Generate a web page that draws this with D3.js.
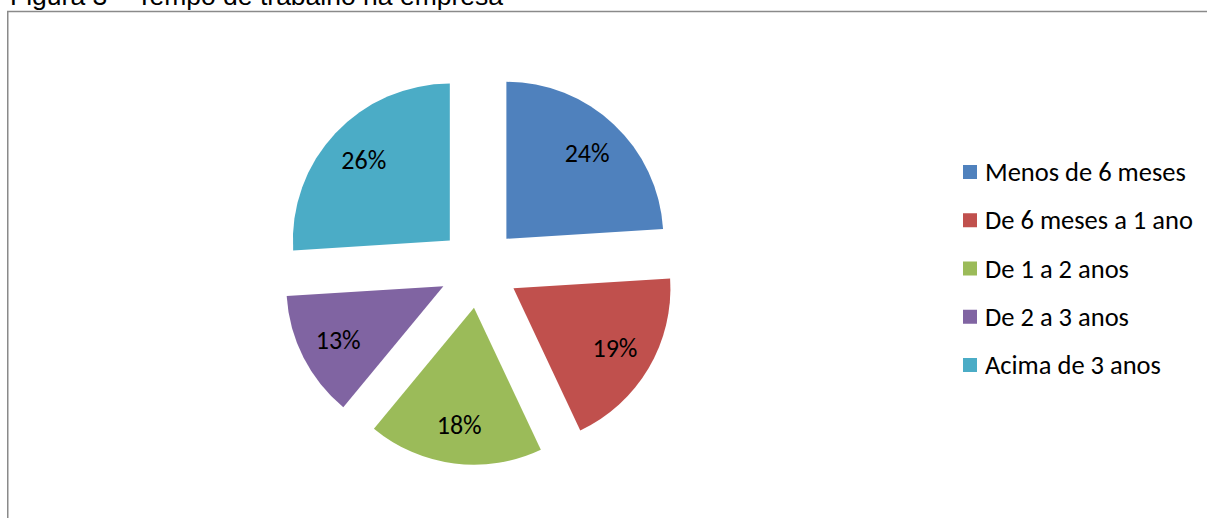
<!DOCTYPE html>
<html>
<head>
<meta charset="utf-8">
<script src="https://cdn.jsdelivr.net/npm/d3@7"></script>
<style>
  html, body { margin: 0; padding: 0; background: #fff; }
  svg { display: block; }
</style>
</head>
<body>
<svg id="chart" width="1207" height="518"></svg>
<script>
// Tempo de trabalho na empresa (percentual dos entrevistados)
const categories = ["Menos de 6 meses", "De 6 meses a 1 ano", "De 1 a 2 anos", "De 2 a 3 anos", "Acima de 3 anos"];
const shares = [24, 19, 18, 13, 26];
const colors = ["#4F81BD", "#C0504D", "#9BBB59", "#8064A2", "#4BACC6"];
const titleText = "Figura 3 \u2013 Tempo de trabalho na empresa";

const W = 1207, H = 518;
const svg = d3.select("#chart");
const labelFont = "Carlito, Calibri, 'Open Sans', sans-serif";

// Figure caption (partially clipped by the page top)
svg.append("text")
  .attr("x", 10).attr("y", 4.5)
  .attr("font-family", "'Liberation Sans', Arial, sans-serif")
  .attr("font-size", 26.5)
  .attr("fill", "#000")
  .text(titleText);

// Chart frame
svg.append("rect")
  .attr("x", 7.75).attr("y", 11.5)
  .attr("width", W + 20).attr("height", H + 20)
  .attr("fill", "none")
  .attr("stroke", "#8a8a8a")
  .attr("stroke-width", 1.5);

// Exploded pie
const cx = 479, cy = 268, radius = 157, explode = 40, labelDist = 118;
const pie = d3.pie().sort(null).value(d => d.v);
const arcs = pie(shares.map((v, i) => ({ v, name: categories[i], color: colors[i] })));
const arc = d3.arc().innerRadius(0).outerRadius(radius);

const g = svg.append("g").attr("transform", `translate(${cx},${cy})`);
const slice = g.selectAll("g.slice").data(arcs).join("g")
  .attr("class", "slice")
  .attr("transform", d => {
    const a = (d.startAngle + d.endAngle) / 2;
    return `translate(${explode * Math.sin(a)},${-explode * Math.cos(a)})`;
  });

slice.append("path")
  .attr("d", arc)
  .attr("fill", d => d.data.color);

slice.append("text")
  .attr("x", d => labelDist * Math.sin((d.startAngle + d.endAngle) / 2))
  .attr("y", d => -labelDist * Math.cos((d.startAngle + d.endAngle) / 2))
  .attr("text-anchor", "middle")
  .attr("dominant-baseline", "central")
  .attr("font-family", labelFont)
  .attr("font-size", 26)
  .attr("fill", "#000")
  .text(d => d3.format(".0f")(d.data.v) + "%");

// Legend
const legendY = d3.scalePoint().domain(categories).range([172, 365]);
const legend = svg.append("g").selectAll("g").data(categories).join("g")
  .attr("transform", d => `translate(963,${legendY(d)})`);
legend.append("rect")
  .attr("x", 0).attr("y", -7).attr("width", 14).attr("height", 14)
  .attr("fill", (d, i) => colors[i]);
legend.append("text")
  .attr("x", 22).attr("y", 0)
  .attr("dominant-baseline", "central")
  .attr("font-family", labelFont)
  .attr("font-size", 26.5)
  .attr("fill", "#000")
  .text(d => d);
</script>
</body>
</html>
